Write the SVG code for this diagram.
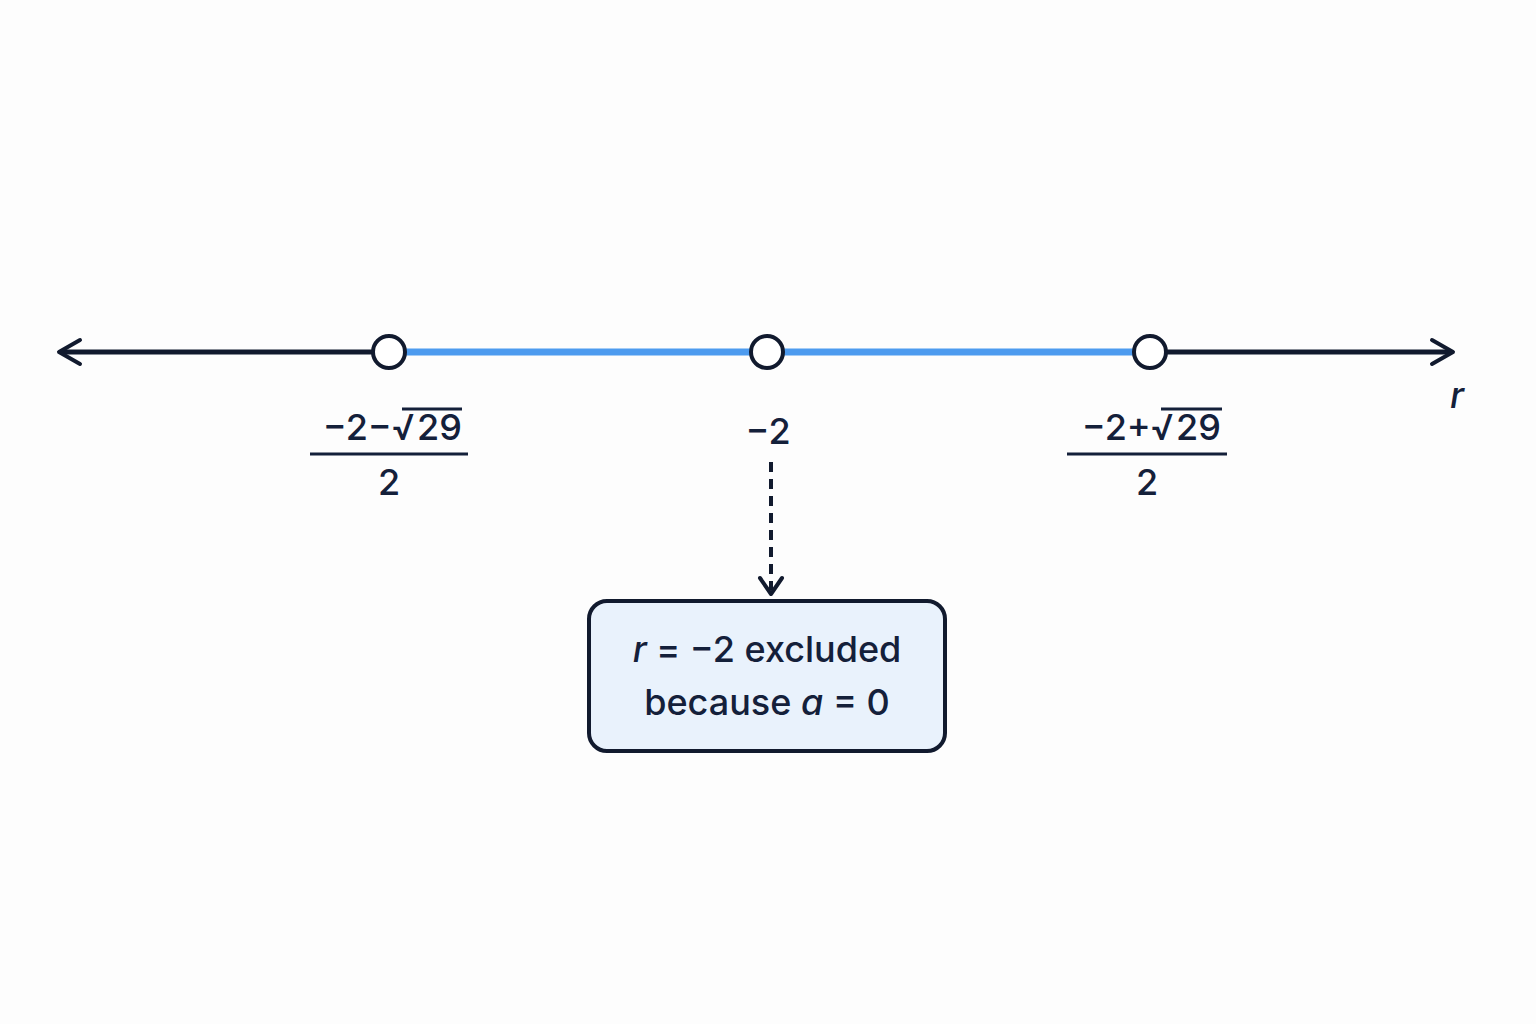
<svg xmlns="http://www.w3.org/2000/svg" width="1536" height="1024" viewBox="0 0 1536 1024">
<style>
text{font-family:"Inter","Liberation Sans",sans-serif;fill:#14203a;font-size:36px;font-weight:500;text-anchor:middle}
.pt{fill:#fff;stroke:#111a2e;stroke-width:4}
.frac{stroke:#14203a;stroke-width:3}
.ah{fill:none;stroke:#111a2e;stroke-width:4;stroke-linecap:round;stroke-linejoin:round}
</style>
<rect width="1536" height="1024" fill="#fdfdfd"/>
<g id="connectors">
<line x1="60" y1="352" x2="1452" y2="352" stroke="#111a2e" stroke-width="5"/>
<path class="ah" d="M80,340 L59,352 L80,364"/>
<path class="ah" d="M1432,340 L1453,352 L1432,364"/>
<line x1="390" y1="352" x2="1150" y2="352" stroke="#4d9bef" stroke-width="7"/>
<line x1="771" y1="462" x2="771" y2="590" stroke="#111a2e" stroke-width="4" stroke-dasharray="10,7"/>
<path class="ah" d="M760,578 L771,594 L782,578"/>
</g>
<g id="p1"><circle class="pt" cx="389" cy="352" r="16"/>
<text x="415" y="440" style="text-anchor:end">−2−√</text><text x="417" y="440" style="text-anchor:start">29</text><line class="frac" x1="402" y1="409" x2="462" y2="409" stroke-width="2.5"/><line class="frac" x1="310" y1="454" x2="468" y2="454"/><text x="389" y="495">2</text></g>
<g id="p2"><circle class="pt" cx="767" cy="352" r="16"/><text x="768" y="444">−2</text></g>
<g id="p3"><circle class="pt" cx="1150" cy="352" r="16"/>
<text x="1174" y="440" style="text-anchor:end">−2+√</text><text x="1176" y="440" style="text-anchor:start">29</text><line class="frac" x1="1161" y1="409" x2="1222" y2="409" stroke-width="2.5"/><line class="frac" x1="1067" y1="454" x2="1227" y2="454"/><text x="1147" y="495">2</text></g>
<g id="axislabel"><text x="1457" y="408" font-style="italic" font-size="42">r</text></g>
<g id="note"><rect x="589" y="601" width="356" height="150" rx="18" fill="#e9f2fc" stroke="#111a2e" stroke-width="4"/>
<text x="767" y="662"><tspan font-style="italic">r</tspan> = −2 excluded</text>
<text x="767" y="715">because <tspan font-style="italic">a</tspan> = 0</text></g>
</svg>
